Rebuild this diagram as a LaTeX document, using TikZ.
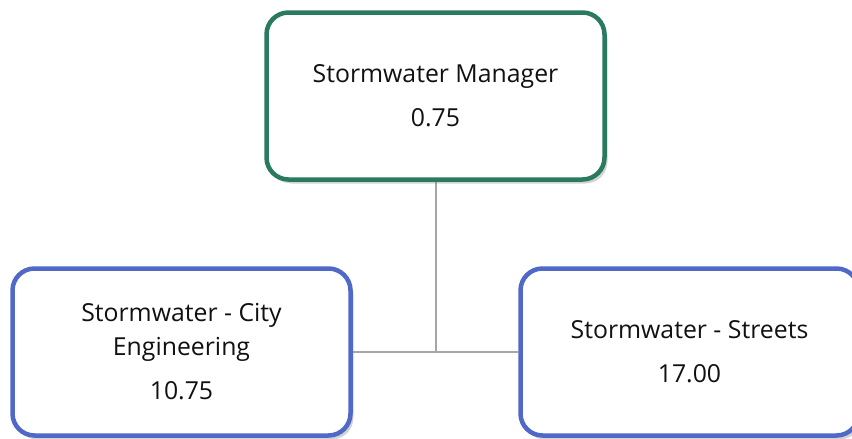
\documentclass[tikz,border=0pt]{standalone}
\usepackage{fontspec}
\setmainfont{Open Sans}
\usepackage{tikz}
\usetikzlibrary{positioning,shadows,backgrounds}
\definecolor{swgreen}{HTML}{2A7A62}
\definecolor{swblue}{HTML}{5068C8}
\definecolor{swline}{HTML}{A6A6A6}
\definecolor{swink}{HTML}{111111}
\tikzset{
  mgrbox/.style={draw=swgreen,line width=4.5pt,fill=white,rounded corners=22pt,
              minimum width=338pt,minimum height=167pt,align=center,
              font=\fontsize{24.8}{34}\selectfont,text=swink,
              drop shadow={opacity=0.35,shadow xshift=3pt,shadow yshift=-4pt}},
  unitbox/.style={mgrbox,draw=swblue},
  linke/.style={draw=swline,line width=2pt},
}

\begin{document}
\begin{tikzpicture}[x=1pt,y=-1pt]
  \useasboundingbox (0,0) rectangle (852,439);

  % ---- boxes ----
  \node[mgrbox] (mgr) at (435.5,96) {Stormwater Manager\\[10pt]0.75};
  \node[unitbox] (city) at (181.5,352) {Stormwater - City\\Engineering\\[10pt]10.75};
  \node[unitbox] (streets) at (689.5,352) {Stormwater - Streets\\[10pt]17.00};

  % ---- connectors ----
  \begin{scope}[on background layer]
    \draw[linke] (city.east) -- (streets.west);
    \draw[linke] (mgr.south) -- (mgr.south |- city.east);
  \end{scope}
\end{tikzpicture}
\end{document}
